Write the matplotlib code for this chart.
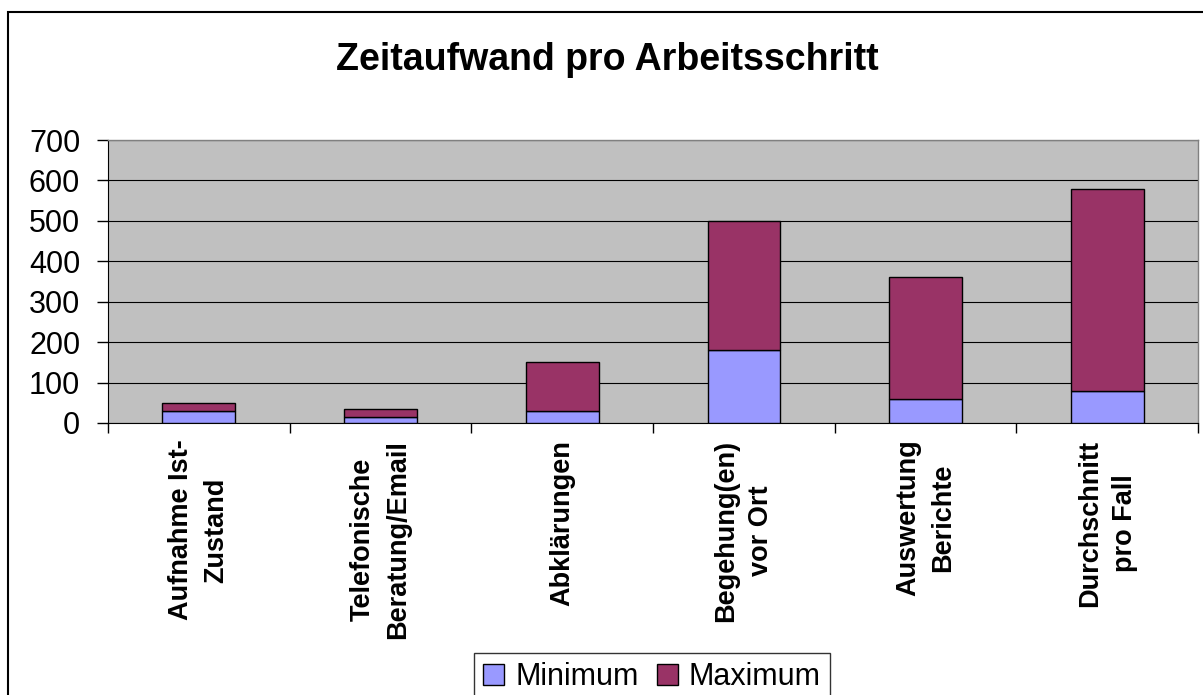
import matplotlib
matplotlib.use("Agg")
import matplotlib.pyplot as plt
import numpy as np
from matplotlib.patches import Rectangle, Patch

# chart data
categories = ["Aufnahme Ist-\nZustand", "Telefonische\nBeratung/Email", "Abklärungen",
              "Begehung(en)\nvor Ort", "Auswertung\nBerichte", "Durchschnitt\npro Fall"]
minimum = [30, 15, 30, 180, 60, 80]
maximum = [20, 20, 120, 320, 300, 500]   # stacked on top of minimum
yticks = [0, 100, 200, 300, 400, 500, 600, 700]

plt.rcParams["font.family"] = ["Liberation Sans", "DejaVu Sans"]

W, H = 1203, 695
fig = plt.figure(figsize=(W / 100, H / 100), dpi=100)
fig.patch.set_facecolor("white")

# chart area frame
fig.patches.append(Rectangle((8 / W, -0.05), 1.1, 1 - 12 / H + 0.05, transform=fig.transFigure,
                             fill=False, edgecolor="black", linewidth=1.5))

left, right, top, bottom = 108, 1198, 140, 423
ax = fig.add_axes([left / W, 1 - bottom / H, (right - left) / W, (bottom - top) / H])
ax.set_facecolor("#C0C0C0")

x = np.arange(len(categories))
ax.bar(x, minimum, width=0.4, color="#9999FF", edgecolor="black", linewidth=1, zorder=3, label="Minimum")
ax.bar(x, maximum, width=0.4, bottom=minimum, color="#993366", edgecolor="black", linewidth=1,
       zorder=3, label="Maximum")

ax.set_xlim(-0.5, len(categories) - 0.5)
ax.set_ylim(0, 700)
ax.set_yticks(yticks)
ax.set_yticklabels([str(v) for v in yticks], fontsize=22)
ax.yaxis.grid(True, color="black", linewidth=0.8, zorder=0)
ax.set_axisbelow(True)
ax.tick_params(axis="y", direction="out", length=8, width=1, pad=12)

ax.set_xticks(x)
ax.set_xticklabels(categories, rotation=90, ha="center", va="top", multialignment="center",
                   fontsize=19.5, fontweight="bold", linespacing=1.45)
ax.set_xticks(np.arange(len(categories) + 1) - 0.5, minor=True)
ax.tick_params(axis="x", which="major", length=0, pad=12)
ax.tick_params(axis="x", which="minor", direction="out", length=7, width=1)

for s in ["top", "right"]:
    ax.spines[s].set_color("#808080")
    ax.spines[s].set_linewidth(1)
ax.spines["left"].set_color("black")
ax.spines["bottom"].set_color("black")

fig.text(0.505, 1 - 60 / H, "Zeitaufwand pro Arbeitsschritt", ha="center", va="center",
         fontsize=27, fontweight="bold")

handles = [Patch(facecolor="#9999FF", edgecolor="black", label="Minimum"),
           Patch(facecolor="#993366", edgecolor="black", label="Maximum")]
leg = fig.legend(handles=handles, loc="upper center", bbox_to_anchor=(652 / W, 1 - 653 / H), ncol=2,
                 fontsize=22, frameon=True, fancybox=False, edgecolor="black", handlelength=0.7,
                 handleheight=0.7, handletextpad=0.35, columnspacing=0.6, borderpad=0.3,
                 borderaxespad=0)
leg.get_frame().set_linewidth(1)

fig.savefig("out.png", dpi=100)
